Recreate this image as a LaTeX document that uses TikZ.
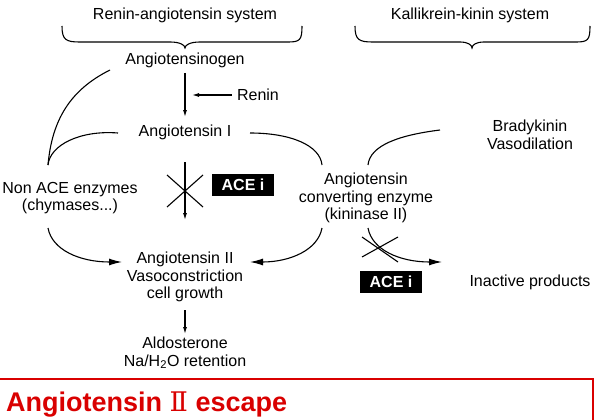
\documentclass[tikz,border=0pt]{standalone}
\usepackage{fontspec}
\setmainfont{Liberation Sans}
\newfontfamily\dvs{DejaVu Serif}
\usetikzlibrary{arrows.meta}
\begin{document}
\begin{tikzpicture}[x=1pt,y=-1pt,
  t/.style={font=\fontsize{16}{17.5}\selectfont,align=center,inner sep=1pt},
  ln/.style={line width=1.1pt},
  ar/.style={ln,-{Latex[length=13pt,width=7pt]}},
  sar/.style={ln,-{Latex[length=7pt,width=4pt]}},
  box/.style={fill=black,text=white,font=\bfseries\fontsize{16}{17}\selectfont,minimum width=62pt,minimum height=22pt,inner sep=0pt}]
\useasboundingbox (0,0) rectangle (600,420);
\node[t] (ras) at (185,15) {Renin-angiotensin system};
\node[t] (kks) at (470,15) {Kallikrein-kinin system};
\draw[ln] (62,26) .. controls (62,40) and (66,42) .. (80,42) -- (170,42) .. controls (180,42) and (185,45) .. (185,48)
  .. controls (185,45) and (190,42) .. (200,42) -- (288,42) .. controls (300,42) and (302,40) .. (302,26);
\draw[ln] (355,26) .. controls (355,40) and (359,42) .. (373,42) -- (460,42) .. controls (468,42) and (472,45) .. (472,48)
  .. controls (472,45) and (476,42) .. (484,42) -- (576,42) .. controls (588,42) and (590,40) .. (590,26);
\node[t] (agn) at (185,60) {Angiotensinogen};
\node[t] (a1) at (185,132) {Angiotensin I};
\node[t] (renin) at (258,95) {Renin};
\coordinate (rt) at (192,95);
\draw[sar] (185,73) -- (185,117);
\draw[sar] (renin.west) ++(-4,0) -- (rt);
\node[t] (nace) at (70,198) {Non ACE enzymes\\(chymases...)};
\node[t] (ace) at (366,198) {Angiotensin\\converting enzyme\\(kininase II)};
\node[t] (brad) at (530,135) {Bradykinin\\Vasodilation};
\node[t] (a2) at (185,277) {Angiotensin II\\Vasoconstriction\\cell growth};
\node[t] (inact) at (530,282) {Inactive products};
\node[t] (ald) at (185,353) {Aldosterone\\Na/H\textsubscript{2}O retention};
\node[box] (b1) at (243,185) {ACE i};
\node[box] (b2) at (391,282) {ACE i};
\draw[ln] (110,70) .. controls (70,90) and (52,120) .. (48,165);
\draw[ln] (118,133) .. controls (80,130) and (50,145) .. (48,165);
\draw[ar] (48,228) .. controls (52,250) and (80,262) .. (122,262);
\draw[ln] (250,133) .. controls (290,133) and (320,145) .. (322,165);
\draw[ar] (322,228) .. controls (318,250) and (290,262) .. (250,262);
\draw[ln] (440,130) .. controls (400,135) and (370,145) .. (368,165);
\draw[ar] (368,228) .. controls (372,250) and (400,262) .. (442,262);
\draw[sar] (185,162) -- (185,220);
\draw[ln] (167,175) -- (203,207) (167,207) -- (203,175);
\draw[ln] (362,237) -- (398,262) (362,257) -- (398,237);
\draw[sar] (185,310) -- (185,334);
\draw[red!85!black,line width=2.5pt] (0,379) -- (593,379) -- (593,420);
\node[anchor=west,text=red!85!black,font=\bfseries\fontsize{27}{29}\selectfont,inner sep=0pt] (esc) at (6,405) {Angiotensin {\dvs\mdseries Ⅱ} escape};
\end{tikzpicture}
\end{document}
